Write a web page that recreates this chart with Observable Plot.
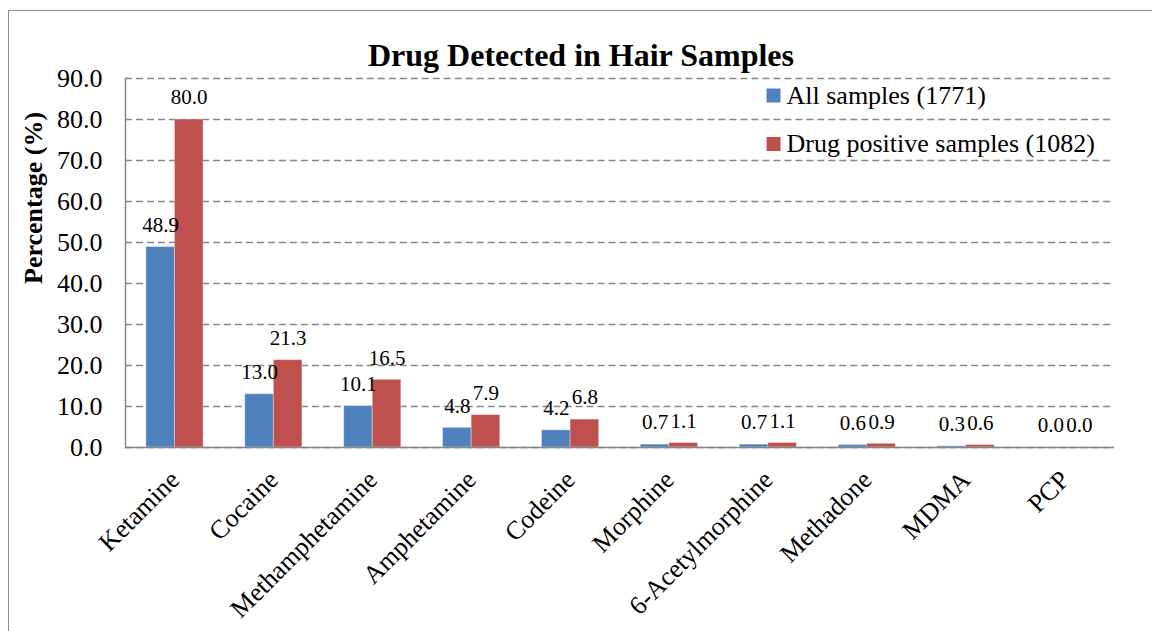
<!DOCTYPE html>
<html><head><meta charset="utf-8">
<script src="https://cdn.jsdelivr.net/npm/d3@7"></script>
<script src="https://cdn.jsdelivr.net/npm/@observablehq/plot@0.6"></script>
<style>
body{margin:0;background:#fff;}
#wrap{position:relative;width:1152px;height:631px;overflow:hidden;background:#fff;}
#wrap svg{position:absolute;left:0;top:0;}
#border{position:absolute;left:8px;top:10px;width:1300px;height:800px;border:1.5px solid #8c8c8c;pointer-events:none;}
</style></head><body><div id="wrap"></div>
<script>
const drugs = ["Ketamine","Cocaine","Methamphetamine","Amphetamine","Codeine","Morphine","6-Acetylmorphine","Methadone","MDMA","PCP"];
const allSamples = [48.9,13.0,10.1,4.8,4.2,0.7,0.7,0.6,0.3,0.0];
const positiveSamples = [80.0,21.3,16.5,7.9,6.8,1.1,1.1,0.9,0.6,0.0];
const seriesNames = ["All samples (1771)","Drug positive samples (1082)"];
const seriesColors = ["#4F81BD","#C0504D"];
const yTicks = [0,10,20,30,40,50,60,70,80,90];
const titleText = "Drug Detected in Hair Samples";
const yLabel = "Percentage (%)";

const rows = drugs.flatMap((drug,i)=>[
  {drug, series: seriesNames[0], value: allSamples[i]},
  {drug, series: seriesNames[1], value: positiveSamples[i]}
]);

const font = "'Liberation Serif','Times New Roman',Times,serif";
const gridColor = "#868686";

const chart = Plot.plot({
  width:1152, height:631,
  marginLeft:125, marginRight:38, marginTop:78, marginBottom:184,
  style:{fontFamily:font, fontSize:"21px", color:"#000", background:"transparent"},
  fx:{domain:drugs, padding:0, round:false, label:null},
  x:{domain:seriesNames, paddingInner:0, paddingOuter:0.73, round:false, axis:null},
  y:{domain:[0,90], label:null},
  color:{domain:seriesNames, range:seriesColors},
  marks:[
    Plot.gridY(yTicks, {stroke:gridColor, strokeOpacity:1, strokeWidth:1.5, strokeDasharray:"7,4"}),
    Plot.barY(rows, {fx:"drug", x:"series", y:"value", fill:"series", stroke:"#fff", strokeOpacity:0.35, strokeWidth:1}),
    Plot.text(rows, {fx:"drug", x:"series", y:"value", text:d=>d.value.toFixed(1), dy:-22, fontSize:21, fill:"#000"}),
    Plot.ruleY([0], {stroke:gridColor, strokeWidth:1.5}),
    Plot.frame({anchor:"left", facetAnchor:"left", stroke:gridColor, strokeWidth:1.5}),
    Plot.axisY(yTicks, {tickFormat:d=>d.toFixed(1), tickSize:0, tickPadding:23, fontSize:26, label:null}),
    Plot.axisFx({anchor:"bottom", tickRotate:-45, tickSize:0, tickPadding:28, fontSize:26, label:null}),
    Plot.text([titleText], {facet:"super", frameAnchor:"top", lineAnchor:"middle", dx:-39, dy:-23, fontSize:32, fontWeight:"bold", fill:"#000"}),
    Plot.text([yLabel], {facet:"super", frameAnchor:"left", rotate:-90, dx:-92, dy:21, fontSize:26, fontWeight:"bold", fill:"#000"}),
    Plot.dot([seriesNames[0]], {facet:"super", frameAnchor:"top-left", dx:648, dy:17, symbol:"square", r:7.9, fill:seriesColors[0], stroke:null}),
    Plot.dot([seriesNames[1]], {facet:"super", frameAnchor:"top-left", dx:648, dy:65.5, symbol:"square", r:7.9, fill:seriesColors[1], stroke:null}),
    Plot.text([seriesNames[0]], {facet:"super", frameAnchor:"top-left", lineAnchor:"middle", dx:661, dy:17, textAnchor:"start", fontSize:26, fill:"#000"}),
    Plot.text([seriesNames[1]], {facet:"super", frameAnchor:"top-left", lineAnchor:"middle", dx:661, dy:65.5, textAnchor:"start", fontSize:26, fill:"#000"})
  ]
});
const wrap = document.getElementById("wrap");
wrap.appendChild(chart);
const b = document.createElement("div"); b.id = "border"; wrap.appendChild(b);
</script>
</body></html>
